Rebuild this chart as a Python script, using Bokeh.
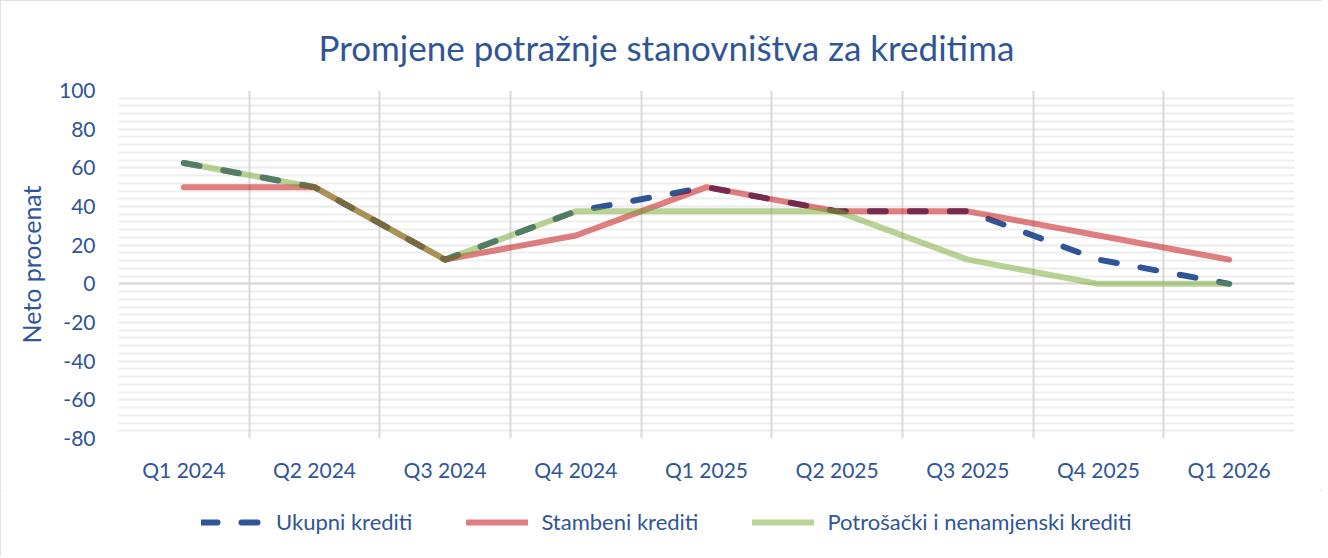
from bokeh.plotting import figure
from bokeh.layouts import column
from bokeh.models import (FixedTicker, SingleIntervalTicker, Grid, Legend, LegendItem, Range1d)
from bokeh.embed import file_html
from bokeh.resources import INLINE

categories = ["Q1 2024", "Q2 2024", "Q3 2024", "Q4 2024", "Q1 2025",
              "Q2 2025", "Q3 2025", "Q4 2025", "Q1 2026"]
ukupni = [62.5, 50, 12.5, 37.5, 50, 37.5, 37.5, 12.5, 0]
stambeni = [50, 50, 12.5, 25, 50, 37.5, 37.5, 25, 12.5]
potrosacki = [62.5, 50, 12.5, 37.5, 37.5, 37.5, 12.5, 0, 0]
series_names = ["Ukupni krediti", "Stambeni krediti", "Potrošački i nenamjenski krediti"]
y_ticks = [-80, -60, -40, -20, 0, 20, 40, 60, 80, 100]

FONT = "Lato"
TXT = "#2F5597"
styles_ = [
    dict(line_color="#2F5597", line_alpha=1.0, line_width=6, line_dash="16 24",
         line_cap="round", line_join="round"),
    dict(line_color="#C00000", line_alpha=0.5, line_width=6,
         line_cap="round", line_join="round"),
    dict(line_color="#74A830", line_alpha=0.5, line_width=6,
         line_cap="round", line_join="round"),
]
series = [ukupni, stambeni, potrosacki]

n = len(categories)
x = list(range(n))

p = figure(width=1322, height=490, output_backend="svg", toolbar_location=None,
           x_range=Range1d(-0.5, n - 0.5), y_range=Range1d(y_ticks[0], y_ticks[-1]),
           min_border_left=118, min_border_right=28, min_border_top=90,
           min_border_bottom=52, title="Promjene potražnje stanovništva za kreditima")
p.outline_line_color = None
p.background_fill_color = "white"
p.border_fill_color = "white"

p.title.text_font = FONT
p.title.text_font_size = "35px"
p.title.text_font_style = "normal"
p.title.text_color = TXT
p.title.align = "left"
p.title.offset = 200
p.title.standoff = 46

# grids: horizontal (light) drawn first, vertical category separators on top
yt = SingleIntervalTicker(interval=y_ticks[1] - y_ticks[0], num_minor_ticks=5)
p.ygrid.ticker = yt
p.ygrid.level = "image"
p.ygrid.grid_line_color = "#eeeeee"
p.ygrid.grid_line_width = 2
p.ygrid.minor_grid_line_color = "#eeeeee"
p.ygrid.minor_grid_line_width = 2

p.xgrid.ticker = FixedTicker(ticks=[i - 0.5 for i in range(n + 1)])
p.xgrid.grid_line_color = "#d9d9d9"
p.xgrid.grid_line_width = 2

p.add_layout(Grid(dimension=1, ticker=FixedTicker(ticks=[0]),
                  grid_line_color="#d9d9d9", grid_line_width=2))

# axes
p.xaxis.ticker = FixedTicker(ticks=x)
p.xaxis.major_label_overrides = {i: c for i, c in zip(x, categories)}
p.yaxis.ticker = FixedTicker(ticks=y_ticks)
p.yaxis.major_label_overrides = {v: str(v) for v in y_ticks}
p.yaxis.axis_label = "Neto procenat"
for ax in (p.xaxis[0], p.yaxis[0]):
    ax.axis_line_color = None
    ax.major_tick_line_color = None
    ax.minor_tick_line_color = None
    ax.major_tick_out = 0
    ax.major_tick_in = 0
    ax.minor_tick_out = 0
    ax.minor_tick_in = 0
    ax.major_label_text_font = FONT
    ax.major_label_text_color = TXT
p.xaxis.major_label_text_font_size = "21px"
p.yaxis.major_label_text_font_size = "21px"
p.xaxis.major_label_standoff = 18
p.yaxis.major_label_standoff = 23
p.yaxis.axis_label_text_font = FONT
p.yaxis.axis_label_text_font_size = "25px"
p.yaxis.axis_label_text_font_style = "normal"
p.yaxis.axis_label_text_color = TXT
p.yaxis.axis_label_standoff = 10

# lines
for ys, st in zip(series, styles_):
    p.line(x, ys, **st)

# legend strip (separate figure so the legend can sit below the axis labels)
p2 = figure(width=1322, height=66, output_backend="svg", toolbar_location=None,
            x_range=Range1d(0, 1), y_range=Range1d(0, 1),
            x_axis_location=None, y_axis_location=None,
            min_border=0)
p2.outline_line_color = None
p2.grid.visible = False
p2.background_fill_color = "white"
p2.border_fill_color = "white"
items = []
for name, ys, st in zip(series_names, series, styles_):
    r = p2.line(x, ys, visible=False, **st)
    items.append(LegendItem(label=name, renderers=[r]))

legend = Legend(items=items, location=(83, 21), orientation="horizontal",
                glyph_width=62, glyph_height=26, label_height=26,
                label_standoff=13, spacing=54,
                padding=0, margin=0, border_line_color=None,
                background_fill_alpha=0, inactive_fill_alpha=0,
                label_text_font=FONT, label_text_font_size="22px",
                label_text_color=TXT)
p2.add_layout(legend, "center")

layout = column(p, p2, spacing=0,
                styles={"outline": "2px solid #d9d9d9", "outline-offset": "-2px"})

open("out.html", "w").write(file_html(layout, INLINE))
